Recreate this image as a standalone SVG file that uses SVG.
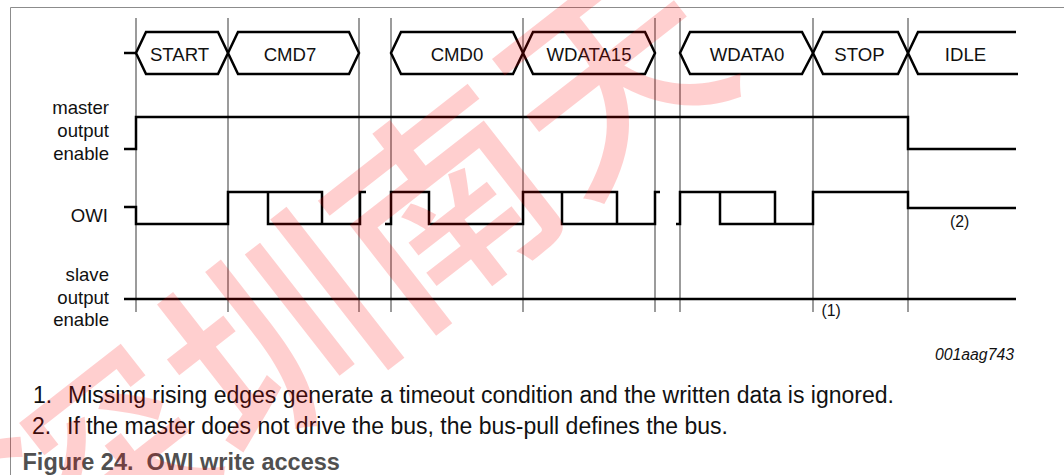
<svg xmlns="http://www.w3.org/2000/svg" width="1064" height="475" viewBox="0 0 1064 475">
<style>
.frame{fill:none;stroke:#8c8c8c;stroke-width:1}
.grid{fill:none;stroke:#4a4a4a;stroke-width:1.1}
.wave{fill:none;stroke:#000;stroke-width:2.5;stroke-linejoin:miter;stroke-linecap:butt}
.lbl{font-family:"Liberation Sans",Arial,sans-serif;font-size:18.6px;fill:#111}
.sm{font-family:"Liberation Sans",Arial,sans-serif;font-size:15.8px;fill:#111}
.note{font-family:"Liberation Sans",Arial,sans-serif;font-size:23px;fill:#111}
.title{font-family:"Liberation Sans",Arial,sans-serif;font-size:23.5px;font-weight:bold;fill:#505050}
.wm{font-family:"Noto Sans CJK SC",sans-serif;font-size:215px;font-weight:500;fill:#ff0000;fill-opacity:0.19}
</style>
<rect width="1064" height="475" fill="#fff"/>
<path class="frame" d="M10.5,475 V7.5 H1064"/>
<g id="gridlines">
<path class="grid" d="M136,18 V312 M228,18 V312 M359,18 V312 M391,18 V312 M523,18 V312 M655,18 V312 M680,18 V312 M813,18 V312 M908,18 V312"/>
</g>
<g id="bus">
<path class="wave" d="M124,53 H136"/>
<g id="n-start"><path class="wave" d="M136,53 L146,32 H218 L228,53 L218,74 H146 Z"/><text class="lbl" x="179.5" y="60.5" text-anchor="middle">START</text></g>
<g id="n-cmd7"><path class="wave" d="M228,53 L238,32 H349 L359,53 L349,74 H238 Z"/><text class="lbl" x="290" y="60.5" text-anchor="middle">CMD7</text></g>
<g id="n-cmd0"><path class="wave" d="M391,53 L401,32 H513 L523,53 L513,74 H401 Z"/><text class="lbl" x="457" y="60.5" text-anchor="middle">CMD0</text></g>
<g id="n-wdata15"><path class="wave" d="M523,53 L533,32 H645 L655,53 L645,74 H533 Z"/><text class="lbl" x="589" y="60.5" text-anchor="middle">WDATA15</text></g>
<g id="n-wdata0"><path class="wave" d="M680,53 L690,32 H802 L813,53 L802,74 H690 Z"/><text class="lbl" x="747" y="60.5" text-anchor="middle">WDATA0</text></g>
<g id="n-stop"><path class="wave" d="M813,53 L823,32 H898 L908,53 L898,74 H823 Z"/><text class="lbl" x="859.5" y="60.5" text-anchor="middle">STOP</text></g>
<g id="n-idle"><path class="wave" d="M1016,32 H918 L908,53 L918,74 H1018"/><text class="lbl" x="965.5" y="60.5" text-anchor="middle">IDLE</text></g>
</g>
<g id="labels">
<text class="lbl" x="109" y="113.5" text-anchor="end">master</text>
<text class="lbl" x="109" y="136.5" text-anchor="end">output</text>
<text class="lbl" x="109" y="159.5" text-anchor="end">enable</text>
<text class="lbl" x="108" y="221.5" text-anchor="end">OWI</text>
<text class="lbl" x="109" y="281" text-anchor="end">slave</text>
<text class="lbl" x="109" y="303.5" text-anchor="end">output</text>
<text class="lbl" x="109" y="326" text-anchor="end">enable</text>
</g>
<g id="connectors">
<path id="master-oe" class="wave" d="M124,149 H136 V117 H908 V149 H1016"/>
<g id="owi">
<path class="wave" d="M124,207 H136 V224 H228 V192 H322 V224"/>
<path class="wave" d="M268,192 V224 H360 V192 H366"/>
<path class="wave" d="M385,224 H391 V192 H429 V224 H523 V192 H617 V224"/>
<path class="wave" d="M562,192 V224 H655 V192 H660"/>
<path class="wave" d="M676,224 H680 V192 H775 V224"/>
<path class="wave" d="M720,192 V224 H813 V192 H908 V208 H1016"/>
</g>
<path id="slave-oe" class="wave" d="M124,299 H1016"/>
</g>
<text class="sm" x="821.5" y="316">(1)</text>
<text class="sm" x="950" y="227">(2)</text>
<text class="sm" x="1014" y="359.5" text-anchor="end" font-style="italic">001aag743</text>
<g id="notes">
<text class="note" x="33" y="403">1.</text>
<text class="note" x="68" y="403">Missing rising edges generate a timeout condition and the written data is ignored.</text>
<text class="note" x="32" y="434">2.</text>
<text class="note" x="67" y="434">If the master does not drive the bus, the bus-pull defines the bus.</text>
<text class="title" x="22.5" y="470" xml:space="preserve">Figure 24.  OWI write access</text>
</g>
<text class="wm" transform="translate(350,262) rotate(-38)" text-anchor="middle" dominant-baseline="central">深圳南天</text>
</svg>
